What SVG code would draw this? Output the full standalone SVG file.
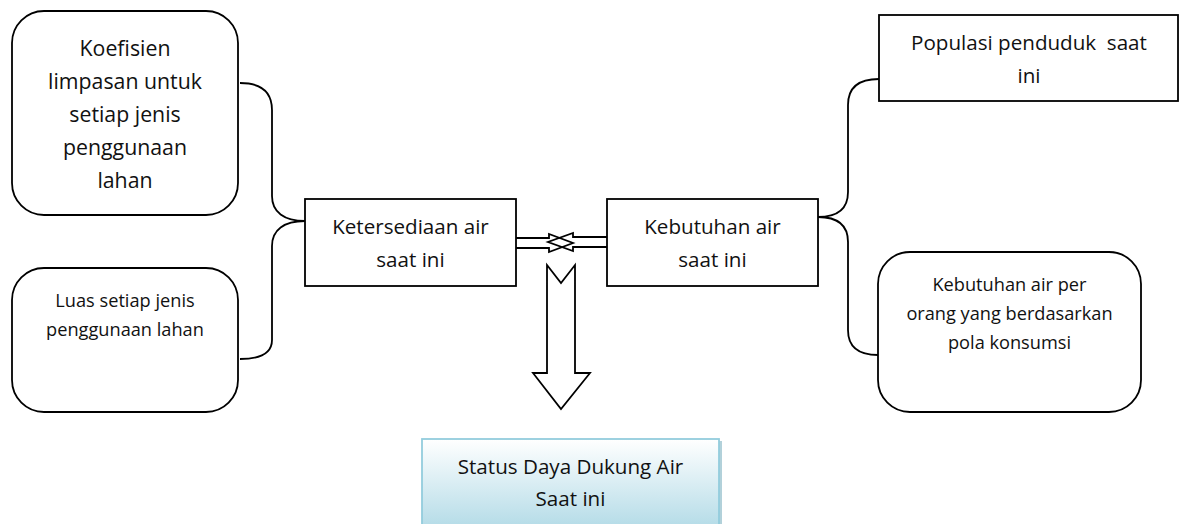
<svg xmlns="http://www.w3.org/2000/svg" width="1185" height="524" viewBox="0 0 1185 524">
  <defs>
    <style>
      .box { fill: #ffffff; stroke: #000000; stroke-width: 1.8; }
      .con { fill: none; stroke: #000000; stroke-width: 1.8; }
      .t { font-family: "Open Sans", "Noto Sans", "Liberation Sans", sans-serif; fill: #111111; text-anchor: middle; }
      .lg { font-size: 20.6px; }
      .xl { font-size: 21.3px; }
      .sm { font-size: 18.2px; }
    </style>
    <linearGradient id="blueGrad" x1="0" y1="0" x2="0" y2="1">
      <stop offset="0" stop-color="#ffffff"/>
      <stop offset="1" stop-color="#b3dbe7"/>
    </linearGradient>
  </defs>
  <rect width="1185" height="524" fill="#ffffff"/>

  <g id="connectors">
    <!-- left brace -->
    <path class="con" d="M240,83 C262,83 272,92 272,110 L272,196 C272,212 284,221 305,221"/>
    <path class="con" d="M305,221 C284,221 272,230 272,246 L272,340 C272,352 262,359 240,359"/>
    <!-- right brace -->
    <path class="con" d="M818,217 C839,217 848,208 848,192 L848,105 C848,88 858,79 879,79"/>
    <path class="con" d="M818,217 C839,217 848,226 848,242 L848,330 C848,346 858,355 878,355"/>
    <!-- double hollow arrows -->
    <path class="con" d="M516,238 L549,238 L549,234 L573,243 L549,252 L549,248 L516,248" stroke-linejoin="miter"/>
    <path class="con" d="M607,237 L573,237 L573,233 L548,242 L573,251 L573,247 L607,247" stroke-linejoin="miter"/>
    <!-- downward hollow arrow -->
    <path class="box" d="M547,265 L561,283 L575,265 L575,373 L590,373 L561,409 L533,373 L547,373 Z"/>
  </g>

  <g id="node-koefisien">
    <rect class="box" x="12" y="11" width="226" height="204" rx="32" ry="32"/>
    <text class="t xl" x="125" y="56">Koefisien</text>
    <text class="t xl" x="125" y="89">limpasan untuk</text>
    <text class="t xl" x="125" y="122">setiap jenis</text>
    <text class="t xl" x="125" y="155">penggunaan</text>
    <text class="t xl" x="125" y="188">lahan</text>
  </g>

  <g id="node-luas">
    <rect class="box" x="12" y="268" width="226" height="144" rx="32" ry="32"/>
    <text class="t sm" x="125" y="307">Luas setiap jenis</text>
    <text class="t sm" x="125" y="336">penggunaan lahan</text>
  </g>

  <g id="node-ketersediaan">
    <rect class="box" x="305" y="199" width="211" height="87"/>
    <text class="t lg" x="410.5" y="234">Ketersediaan air</text>
    <text class="t lg" x="410.5" y="267">saat ini</text>
  </g>

  <g id="node-kebutuhan">
    <rect class="box" x="607" y="199" width="211" height="87"/>
    <text class="t lg" x="712.5" y="234">Kebutuhan air</text>
    <text class="t lg" x="712.5" y="267">saat ini</text>
  </g>

  <g id="node-populasi">
    <rect class="box" x="879" y="15" width="299" height="86"/>
    <text class="t lg" x="1029" y="50" xml:space="preserve">Populasi penduduk  saat</text>
    <text class="t lg" x="1029" y="83">ini</text>
  </g>

  <g id="node-kebutuhan-per-orang">
    <rect class="box" x="878" y="252" width="263" height="160" rx="32" ry="32"/>
    <text class="t sm" x="1009.5" y="291">Kebutuhan air per</text>
    <text class="t sm" x="1009.5" y="320">orang yang berdasarkan</text>
    <text class="t sm" x="1009.5" y="349">pola konsumsi</text>
  </g>

  <g id="node-status">
    <rect x="424" y="441" width="298" height="90" fill="#7fb3c2" opacity="0.6"/>
    <rect x="422" y="439" width="297" height="90" fill="url(#blueGrad)" stroke="#93cddd" stroke-width="1.8"/>
    <text class="t lg" x="570.5" y="474">Status Daya Dukung Air</text>
    <text class="t lg" x="570.5" y="506">Saat ini</text>
  </g>
</svg>
